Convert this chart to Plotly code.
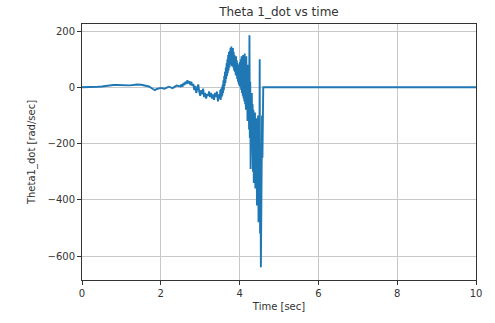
import plotly.graph_objects as go

# time (s) and theta1_dot (rad/s)
t_smooth = [0.0, 0.1, 0.2, 0.3, 0.4, 0.5, 0.6, 0.7, 0.8, 0.9, 1.0, 1.1, 1.2, 1.3, 1.4,
            1.5, 1.6, 1.7, 1.8, 1.85, 1.9, 2.0, 2.1, 2.2, 2.3, 2.4]
v_smooth = [0, 0, 0, 1, 2, 3, 5, 7, 8, 8, 7, 6, 7, 8, 10,
            9, 7, 3, -6, -10, -6, -2, -5, 2, -3, 6]

t_grow = [2.5, 2.525, 2.55, 2.575, 2.6, 2.625, 2.65, 2.675, 2.7, 2.725, 2.75, 2.775,
          2.8, 2.825, 2.85, 2.875, 2.9, 2.925, 2.95, 2.975, 3.0, 3.025, 3.05, 3.075,
          3.1, 3.125, 3.15, 3.175, 3.2, 3.225, 3.25, 3.275, 3.3, 3.325, 3.35, 3.375,
          3.4, 3.425, 3.45, 3.475, 3.5]
v_grow = [3, 10, 2, 15, 8, 20, 12, 25, 14, 22, 8, 20,
          5, 12, -10, 5, -20, -5, 10, -15, -30, -10, -25, -5,
          -35, -20, -40, -25, -30, -15, -35, -20, -40, -25, -45, -20,
          -35, -15, -50, -25, -40]

t_chaos = [3.51, 3.52, 3.53, 3.54, 3.55, 3.56, 3.57, 3.58, 3.59, 3.60,
           3.61, 3.62, 3.63, 3.64, 3.65, 3.66, 3.67, 3.68, 3.69, 3.70,
           3.71, 3.72, 3.73, 3.74, 3.75, 3.76, 3.77, 3.78, 3.79, 3.80,
           3.81, 3.82, 3.83, 3.84, 3.85, 3.86, 3.87, 3.88, 3.89, 3.90,
           3.91, 3.92, 3.93, 3.94, 3.95, 3.96, 3.97, 3.98, 3.99, 4.00,
           4.01, 4.02, 4.03, 4.04, 4.05, 4.06, 4.07, 4.08, 4.09, 4.10,
           4.11, 4.12, 4.13, 4.14, 4.15, 4.16, 4.17, 4.18, 4.19, 4.20,
           4.21, 4.22, 4.23, 4.24, 4.25, 4.26, 4.27, 4.28, 4.29, 4.30,
           4.31, 4.32, 4.33, 4.34, 4.35, 4.36, 4.37, 4.38, 4.39, 4.40,
           4.41, 4.42, 4.43, 4.44, 4.45, 4.46, 4.47, 4.48, 4.49, 4.50,
           4.51, 4.52, 4.53, 4.54, 4.55, 4.56, 4.57, 4.58, 4.59, 4.60]
v_chaos = [-10, -45, -5, -35, 0, -30, 10, -20, 25, -10,
           40, 5, 55, 15, 70, 30, 85, 40, 100, 50,
           115, 60, 125, 70, 130, 80, 140, 90, 145, 75,
           135, 85, 140, 70, 125, 60, 115, 55, 105, 45,
           110, 40, 95, 30, 85, 20, 80, 10, 70, 5,
           90, 0, 100, -10, 110, -20, 95, -30, 115, -40,
           100, -50, 120, -60, 90, -80, 110, -70, 60, -120,
           80, -100, 40, -150, 185, -180, 20, -290, -40, -250,
           -20, -200, -60, -300, -80, -340, -100, -280, -90, -360,
           -120, -330, -110, -420, -130, -380, -100, -480, -150, -450,
           100, -520, -200, -640, -300, -560, -100, -250, 0, 0]

t_rest = [5.0, 6.0, 7.0, 8.0, 9.0, 10.0]
v_rest = [0, 0, 0, 0, 0, 0]

t = t_smooth + t_grow + t_chaos + t_rest
v = v_smooth + v_grow + v_chaos + v_rest

x_ticks = [0, 2, 4, 6, 8, 10]
y_ticks = [-600, -400, -200, 0, 200]

fig = go.Figure()
fig.add_trace(go.Scatter(x=t, y=v, mode="lines",
                         line=dict(color="#1f77b4", width=1.9),
                         showlegend=False, hoverinfo="skip"))

axis_common = dict(
    showline=True, linecolor="#333333", linewidth=1, mirror=True,
    showgrid=True, gridcolor="#c8c8c8", gridwidth=1,
    ticks="outside", ticklen=4, tickcolor="#333333",
    zeroline=False,
    tickfont=dict(family="DejaVu Sans", size=10, color="#333333"),
)

fig.update_layout(
    width=495, height=323,
    margin=dict(l=82, r=19, t=24, b=43),
    paper_bgcolor="white", plot_bgcolor="white",
    title=dict(text="Theta 1_dot vs time", x=0.5635, xanchor="center",
               y=0.965, yanchor="middle",
               font=dict(family="DejaVu Sans", size=12, color="#333333")),
    xaxis=dict(range=[0, 10], tickvals=x_ticks,
               title=dict(text="Time [sec]", standoff=4,
                          font=dict(family="DejaVu Sans", size=10, color="#333333")),
               **axis_common),
    yaxis=dict(range=[-685, 225], tickvals=y_ticks,
               title=dict(text="Theta1_dot [rad/sec]", standoff=10,
                          font=dict(family="DejaVu Sans", size=10, color="#333333")),
               **axis_common),
)

fig.write_html("out.html")
